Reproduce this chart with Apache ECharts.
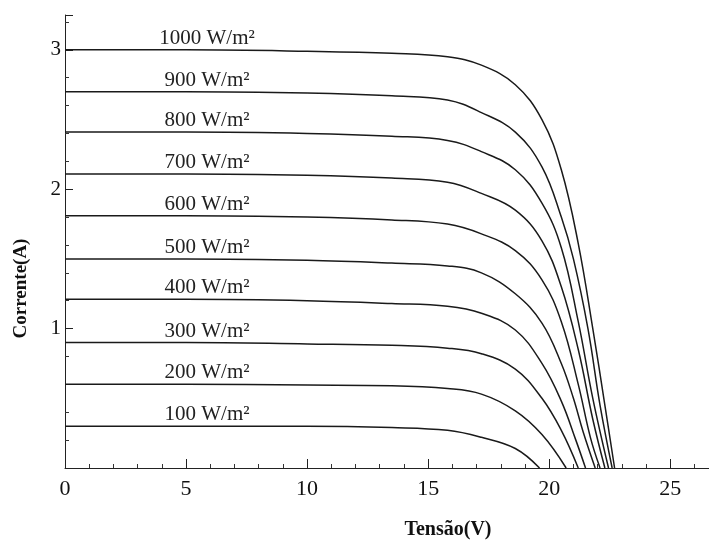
<!DOCTYPE html>
<html>
<head>
<meta charset="utf-8">
<script src="https://cdn.jsdelivr.net/npm/echarts@6/dist/echarts.min.js"></script>
<style>html,body{margin:0;padding:0;background:#fff;}#c{width:709px;height:541px;}</style>
</head>
<body>
<div id="c"></div>
<script>
const seriesNames = ['1000 W/m²','900 W/m²','800 W/m²','700 W/m²','600 W/m²','500 W/m²','400 W/m²','300 W/m²','200 W/m²','100 W/m²'];
const curve1000 = [[0,3.00],[5,3.00],[10,2.99],[13.5,2.975],[15.8,2.95],[17.2,2.89],[18.6,2.75],[19.7,2.50],[20.5,2.14],[21.2,1.61],[21.8,1.00],[22.3,0.45],[22.7,0]];
const curve900 = [[0,2.70],[5,2.70],[10,2.69],[13.5,2.67],[15.8,2.64],[17.2,2.55],[18.6,2.41],[19.7,2.16],[20.5,1.80],[21.0,1.50],[21.6,1.00],[22.1,0.45],[22.6,0]];
const curve800 = [[0,2.41],[5,2.41],[10,2.40],[13.5,2.38],[15.8,2.35],[17.2,2.27],[18.6,2.14],[19.7,1.90],[20.5,1.58],[21.2,1.05],[21.8,0.50],[22.45,0]];
const curve700 = [[0,2.11],[5,2.11],[10,2.10],[13.5,2.08],[15.8,2.05],[17.2,1.97],[18.6,1.85],[19.7,1.63],[20.5,1.30],[21.2,0.85],[21.8,0.35],[22.3,0]];
const curve600 = [[0,1.81],[5,1.81],[10,1.80],[13.5,1.78],[15.8,1.75],[17.2,1.68],[18.6,1.56],[19.7,1.35],[20.5,1.05],[21.2,0.60],[21.7,0.22],[22.1,0]];
const curve500 = [[0,1.50],[5,1.50],[10,1.49],[13.5,1.47],[15.8,1.45],[17.2,1.40],[18.6,1.25],[19.7,1.04],[20.5,0.75],[21.0,0.50],[21.4,0.26],[21.9,0]];
const curve400 = [[0,1.21],[5,1.21],[10,1.20],[13.5,1.18],[15.8,1.16],[17.2,1.11],[18.6,0.99],[19.7,0.75],[20.5,0.48],[21.1,0.20],[21.5,0]];
const curve300 = [[0,0.90],[5,0.90],[10,0.89],[13.5,0.88],[15.8,0.86],[17.2,0.82],[18.6,0.71],[19.7,0.50],[20.5,0.27],[21.2,0]];
const curve200 = [[0,0.60],[5,0.60],[10,0.595],[13.5,0.59],[15.8,0.57],[17.2,0.53],[18.6,0.41],[19.7,0.24],[20.7,0]];
const curve100 = [[0,0.30],[5,0.30],[10,0.30],[13.5,0.29],[15.8,0.27],[17.2,0.22],[18.6,0.14],[19.6,0]];
const curves = [curve1000,curve900,curve800,curve700,curve600,curve500,curve400,curve300,curve200,curve100];
const xTickLabels = ['0','5','10','15','20','25'];
const yTickLabels = ['1','2','3'];
const labelVoltage = 5;

const serif = '"Liberation Serif","DejaVu Serif",serif';
const chart = echarts.init(document.getElementById('c'));
chart.setOption({
  animation: false,
  backgroundColor: '#fff',
  grid: {left: 65, right: 0, top: 15, bottom: 73, containLabel: false, outerBoundsMode: 'none'},
  xAxis: {
    type: 'value', min: 0, max: 26.6, interval: 5,
    name: 'Tensão(V)', nameLocation: 'middle', nameGap: 52,
    nameTextStyle: {fontFamily: serif, fontWeight: 'bold', fontSize: 20, color: '#111', padding: [0,0,0,122]},
    axisLine: {lineStyle: {color: '#222', width: 1}},
    axisTick: {inside: true, length: 9, lineStyle: {color: '#222'}},
    minorTick: {show: true, splitNumber: 5, length: 4, lineStyle: {color: '#333'}},
    splitLine: {show: false},
    axisLabel: {fontFamily: serif, fontSize: 22, color: '#111', margin: 10,
      formatter: v => xTickLabels.includes(String(v)) ? String(v) : ''}
  },
  yAxis: {
    type: 'value', min: 0, max: 3.25, interval: 1,
    name: 'Corrente(A)', nameLocation: 'middle', nameGap: 34, nameRotate: 90,
    nameTextStyle: {fontFamily: serif, fontWeight: 'bold', fontSize: 19, color: '#111', padding: [0,94,0,0]},
    axisLine: {lineStyle: {color: '#222', width: 1}},
    axisTick: {inside: true, length: 8, lineStyle: {color: '#222'}},
    minorTick: {show: true, splitNumber: 5, length: 4, lineStyle: {color: '#333'}},
    splitLine: {show: false},
    axisLabel: {fontFamily: serif, fontSize: 21, color: '#111', margin: 4,
      formatter: v => yTickLabels.includes(String(v)) ? String(v) : ''}
  },
  series: curves.map((c, i) => ({
    type: 'line', name: seriesNames[i], smooth: 0.4,
    showSymbol: true, symbol: 'circle', symbolSize: 0,
    lineStyle: {color: '#1a1a1a', width: 1.5},
    itemStyle: {color: '#1a1a1a'},
    data: c.map(p => p[0] === labelVoltage ? {
      value: p,
      label: {show: true, position: 'top', distance: 1, offset: [21, 0], formatter: seriesNames[i],
        fontFamily: serif, fontSize: 21, color: '#222'}
    } : p)
  }))
});
</script>
</body>
</html>
